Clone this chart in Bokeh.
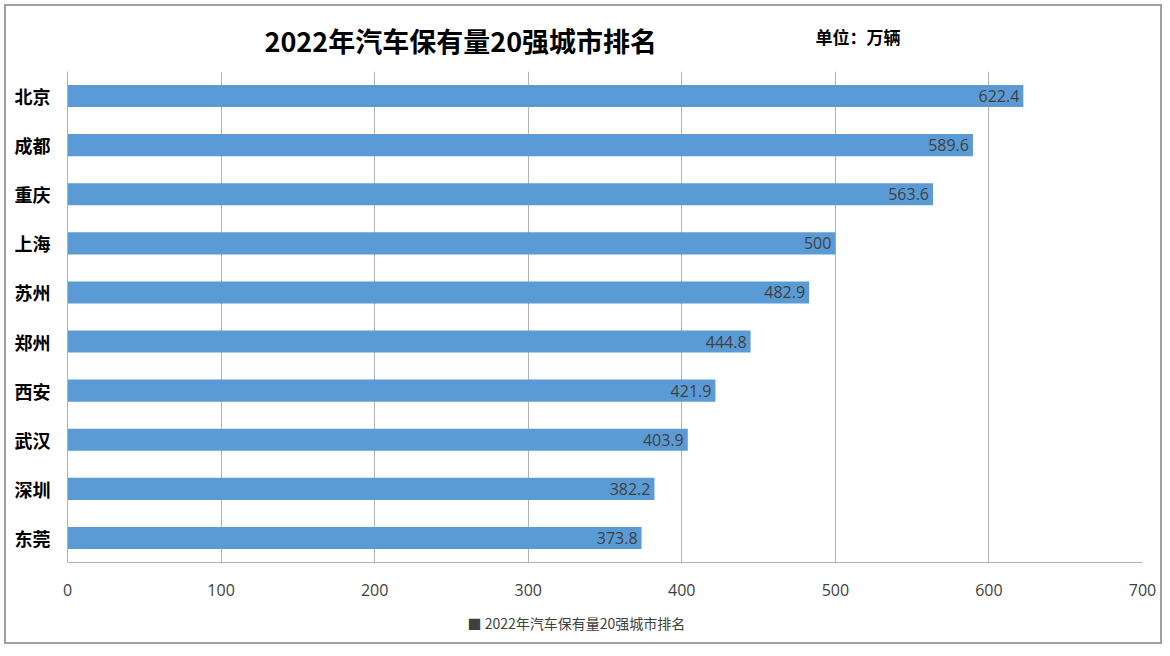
from bokeh.plotting import figure
from bokeh.models import (Range1d, FactorRange, ColumnDataSource, LabelSet, Title,
                          FixedTicker)
from bokeh.core.properties import value
from bokeh.embed import file_html
from bokeh.resources import INLINE

cities = ["北京", "成都", "重庆", "上海", "苏州", "郑州", "西安", "武汉", "深圳", "东莞"]
values = [622.4, 589.6, 563.6, 500, 482.9, 444.8, 421.9, 403.9, 382.2, 373.8]
labels = ["622.4", "589.6", "563.6", "500", "482.9", "444.8", "421.9", "403.9", "382.2", "373.8"]
x_ticks = [0, 100, 200, 300, 400, 500, 600, 700]
title_text = "2022年汽车保有量20强城市排名"
unit_text = "单位：万辆"
series_name = "2022年汽车保有量20强城市排名"

BLUE = "#5B9BD5"
GRID = "#B3B3B3"
CJK = "Noto Sans CJK SC"
NUM = "Open Sans"

W, H = 1158, 640
FL, FR, FT, FB = 61, 1136, 65, 556

p = figure(width=W, height=H, output_backend="svg", toolbar_location=None,
           x_range=Range1d(0, 700), y_range=FactorRange(*reversed(cities)),
           min_border_left=FL, min_border_right=W - FR, min_border_top=FT,
           min_border_bottom=H - FB)
p.styles = {"border": "2px solid #A0A0A0", "margin-left": "4px", "margin-top": "4px"}
p.outline_line_color = None
p.background_fill_color = "white"
p.border_fill_color = "white"

src = ColumnDataSource(dict(city=cities, val=values, lab=labels))
r = p.hbar(y="city", right="val", left=0, height=0.45, source=src,
           fill_color=BLUE, line_color=None)

p.add_layout(LabelSet(x="val", y="city", text="lab", source=src, x_offset=-4,
                      text_align="right", text_baseline="middle",
                      text_font_size="16px", text_color="#404040",
                      text_font=value(NUM)))

p.xaxis.ticker = FixedTicker(ticks=x_ticks)
p.xaxis.major_tick_line_color = None
p.xaxis.minor_tick_line_color = None
p.xaxis.axis_line_color = GRID
p.xaxis.major_label_standoff = 15
p.xaxis.major_label_text_font = NUM
p.xaxis.major_label_text_font_size = "16px"
p.xaxis.major_label_text_color = "#404040"

p.yaxis.major_tick_line_color = None
p.yaxis.minor_tick_line_color = None
p.yaxis.axis_line_color = GRID
p.yaxis.major_label_standoff = 11
p.yaxis.major_label_text_font = CJK
p.yaxis.major_label_text_font_style = "bold"
p.yaxis.major_label_text_font_size = "18px"
p.yaxis.major_label_text_color = "#000000"

p.xgrid.grid_line_color = GRID
p.ygrid.grid_line_color = None

# outer title slot: unit label, pulled down into the main title's row
p.title.text = unit_text
p.title.align = "left"
p.title.offset = 748
p.title.standoff = -82
p.title.text_font = CJK
p.title.text_font_style = "bold"
p.title.text_font_size = "17px"
p.title.text_color = "#000000"

# inner title slot: main chart title
main_title = Title(text=title_text, align="left", offset=197, standoff=23,
                   text_font=CJK, text_font_style="bold", text_font_size="27px",
                   text_color="#000000")
p.add_layout(main_title, "above")

# series key below the x axis
key = Title(text="\u25A0 " + series_name, align="left", offset=400, standoff=24,
            text_font=CJK, text_font_style="normal", text_font_size="14px",
            text_color="#404040")
p.add_layout(key, "below")

open("out.html", "w").write(file_html(p, INLINE))
